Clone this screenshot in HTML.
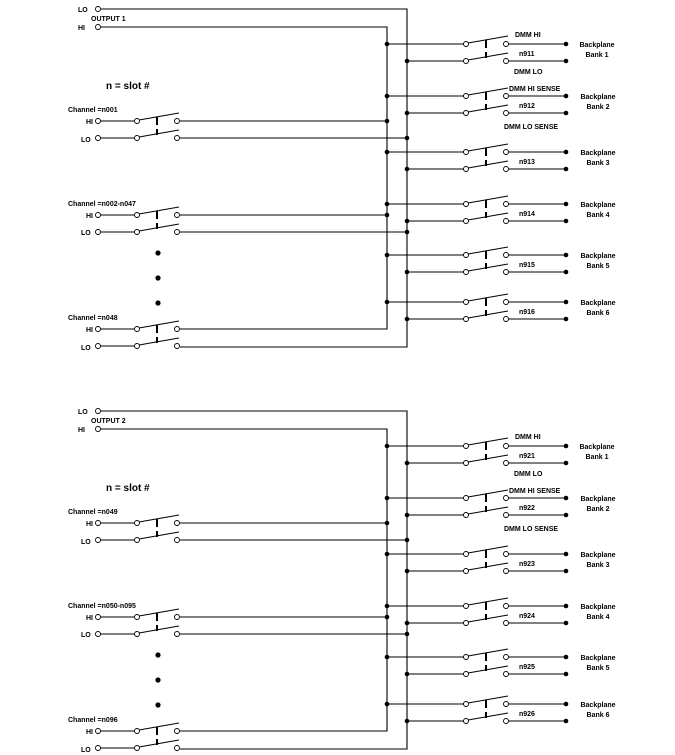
<!DOCTYPE html>
<html><head><meta charset="utf-8"><style>
html,body{margin:0;padding:0;background:#fff;}
svg{display:block;}
text{font-family:"Liberation Sans",Arial,sans-serif;font-weight:bold;font-size:7px;fill:#000;}
.big{font-size:10px;}
</style></head><body>
<svg width="675" height="755" viewBox="0 0 675 755" xmlns="http://www.w3.org/2000/svg">
<defs>
<g id="sw" stroke="#000" fill="none">
<line x1="2" y1="-1" x2="42" y2="-8" stroke-width="1"/>
<line x1="2" y1="16" x2="42" y2="9" stroke-width="1"/>
<line x1="20" y1="-4" x2="20" y2="4" stroke-width="2"/>
<line x1="20" y1="8" x2="20" y2="14" stroke-width="2"/>
<circle cx="0" cy="0" r="2.5" fill="#fff" stroke-width="0.9"/>
<circle cx="40" cy="0" r="2.5" fill="#fff" stroke-width="0.9"/>
<circle cx="0" cy="17" r="2.5" fill="#fff" stroke-width="0.9"/>
<circle cx="40" cy="17" r="2.5" fill="#fff" stroke-width="0.9"/>
</g>
<g id="bank" stroke="#000" stroke-width="1.1" fill="none">
<line x1="387" y1="0" x2="464" y2="0"/>
<line x1="407" y1="17" x2="464" y2="17"/>
<line x1="508" y1="0" x2="566" y2="0"/>
<line x1="508" y1="17" x2="566" y2="17"/>
<circle cx="387" cy="0" r="2.3" fill="#000" stroke="none"/>
<circle cx="407" cy="17" r="2.3" fill="#000" stroke="none"/>
<circle cx="566" cy="0" r="2.3" fill="#000" stroke="none"/>
<circle cx="566" cy="17" r="2.3" fill="#000" stroke="none"/>
<use href="#sw" x="466" y="0"/>
</g>
<g id="chan" stroke="#000" stroke-width="1.1" fill="none">
<line x1="100" y1="0" x2="135" y2="0"/>
<line x1="100" y1="17" x2="135" y2="17"/>
<circle cx="98" cy="0" r="2.5" fill="#fff" stroke-width="0.9"/>
<circle cx="98" cy="17" r="2.5" fill="#fff" stroke-width="0.9"/>
<use href="#sw" x="137" y="0"/>
</g>
<g id="half">
<g stroke="#000" stroke-width="1.1" fill="none">
<path d="M101 9 H407 V347 H180"/>
<path d="M101 27 H387 V329 H180"/>
<line x1="180" y1="121" x2="387" y2="121"/>
<line x1="180" y1="138" x2="407" y2="138"/>
<line x1="180" y1="215" x2="387" y2="215"/>
<line x1="180" y1="232" x2="407" y2="232"/>
<circle cx="98" cy="9" r="2.5" fill="#fff" stroke-width="0.9"/>
<circle cx="98" cy="27" r="2.5" fill="#fff" stroke-width="0.9"/>
</g>
<g fill="#000">
<circle cx="387" cy="121" r="2.3"/><circle cx="407" cy="138" r="2.3"/>
<circle cx="387" cy="215" r="2.3"/><circle cx="407" cy="232" r="2.3"/>
<circle cx="158" cy="253" r="2.6"/><circle cx="158" cy="278" r="2.6"/><circle cx="158" cy="303" r="2.6"/>
</g>
<use href="#chan" y="121"/>
<use href="#chan" y="215"/>
<use href="#chan" y="329"/>
<use href="#bank" y="44"/>
<use href="#bank" y="96"/>
<use href="#bank" y="152"/>
<use href="#bank" y="204"/>
<use href="#bank" y="255"/>
<use href="#bank" y="302"/>
<text x="78" y="12">LO</text>
<text x="78" y="30">HI</text>
<text class="big" x="106" y="89">n = slot #</text>
<text x="86" y="124">HI</text>
<text x="81" y="142">LO</text>
<text x="86" y="218">HI</text>
<text x="81" y="235">LO</text>
<text x="86" y="332">HI</text>
<text x="81" y="350">LO</text>
<text x="515" y="37">DMM HI</text>
<text x="514" y="74">DMM LO</text>
<text x="509" y="91">DMM HI SENSE</text>
<text x="504" y="129">DMM LO SENSE</text>
<g text-anchor="middle">
<text x="597" y="47">Backplane</text><text x="597" y="57">Bank 1</text>
<text x="598" y="99">Backplane</text><text x="598" y="109">Bank 2</text>
<text x="598" y="155">Backplane</text><text x="598" y="165">Bank 3</text>
<text x="598" y="207">Backplane</text><text x="598" y="217">Bank 4</text>
<text x="598" y="258">Backplane</text><text x="598" y="268">Bank 5</text>
<text x="598" y="305">Backplane</text><text x="598" y="315">Bank 6</text>
</g>
</g>
</defs>
<use href="#half"/>
<use href="#half" y="402"/>
<text x="91" y="21">OUTPUT 1</text>
<text x="68" y="112">Channel =n001</text>
<text x="68" y="206">Channel =n002-n047</text>
<text x="68" y="320">Channel =n048</text>
<text x="519" y="56">n911</text>
<text x="519" y="108">n912</text>
<text x="519" y="164">n913</text>
<text x="519" y="216">n914</text>
<text x="519" y="267">n915</text>
<text x="519" y="314">n916</text>
<text x="91" y="423">OUTPUT 2</text>
<text x="68" y="514">Channel =n049</text>
<text x="68" y="608">Channel =n050-n095</text>
<text x="68" y="722">Channel =n096</text>
<text x="519" y="458">n921</text>
<text x="519" y="510">n922</text>
<text x="519" y="566">n923</text>
<text x="519" y="618">n924</text>
<text x="519" y="669">n925</text>
<text x="519" y="716">n926</text>
</svg>
</body></html>
